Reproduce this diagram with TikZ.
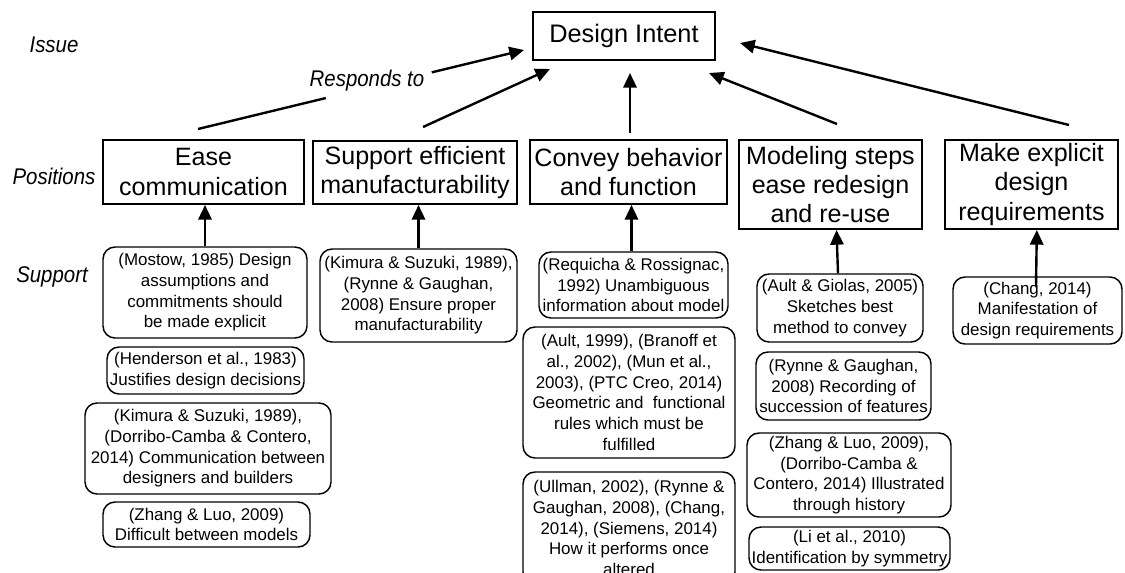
\documentclass[tikz,border=0pt]{standalone}
\usepackage{fontspec}
\setmainfont{Liberation Sans}
\newfontfamily\labfont[FakeStretch=0.9]{Liberation Sans}
\usetikzlibrary{arrows.meta,calc}

\tikzset{
  posbox/.style={draw, line width=1.5pt, align=center, inner sep=0pt,
    font={\fontsize{18.8}{22}\selectfont}},
  supbox/.style={draw, rounded corners=9pt, line width=1.1pt, align=center, inner sep=0pt,
    font={\fontsize{12.7}{15.5}\selectfont}},
  arr/.style={line width=1.8pt, -{Triangle[length=11pt,width=10pt]}},
  seg/.style={line width=1.8pt},
  lab/.style={font={\labfont\itshape\fontsize{17}{20}\selectfont}}
}

\begin{document}
\begin{tikzpicture}[x=0.75pt, y=-0.75pt]
\useasboundingbox (0,0) rectangle (1125,572);
\fill[white] (0,0) rectangle (1125,572);
\clip (0,0) rectangle (1125,572);

% level labels
\node[lab] (lissue) at (54,45) {Issue};
\node[lab] (lpos) at (54,176) {Positions};
\node[lab] (lsup) at (52,277) {Support};

% issue
\node[posbox, minimum width=136.5pt, minimum height=36pt,
  font={\fontsize{19}{22}\selectfont}] (intent) at (624,36) {Design Intent};

% positions
\node[posbox, minimum width=150.75pt, minimum height=48pt] (ease) at (203.5,172) {Ease\\communication};
\node[posbox, minimum width=153pt, minimum height=47.25pt] (manuf) at (415,172.5) {Support efficient\\manufacturability};
\node[posbox, minimum width=147.75pt, minimum height=48pt] (convey) at (628.5,172) {Convey behavior\\and function};
\node[posbox, minimum width=137.25pt, minimum height=66.75pt] (model) at (830.5,184.5) {Modeling steps\\ease redesign\\and re-use};
\node[posbox, minimum width=129.75pt, minimum height=66.75pt] (explicit) at (1031.5,184.5) {Make explicit\\design\\requirements};

% support, column 1
\node[supbox, minimum width=153pt, minimum height=68.25pt] (mostow) at (205,292.5)
  {(Mostow, 1985) Design\\assumptions and\\commitments should\\be made explicit};
\node[supbox, minimum width=147.75pt, minimum height=35.25pt] (henderson) at (205.5,370.5)
  {(Henderson et al., 1983)\\Justifies design decisions};
\node[supbox, minimum width=184.5pt, minimum height=68.25pt] (kimuraA) at (208,448.5)
  {(Kimura \& Suzuki, 1989),\\(Dorribo-Camba \& Contero,\\2014) Communication between\\designers and builders};
\node[supbox, minimum width=155.25pt, minimum height=33.75pt] (zhangA) at (206.5,524.5)
  {(Zhang \& Luo, 2009)\\Difficult between models};

% support, column 2
\node[supbox, minimum width=147.75pt, minimum height=69.75pt] (kimuraB) at (418.5,295.5)
  {(Kimura \& Suzuki, 1989),\\(Rynne \& Gaughan,\\2008) Ensure proper\\manufacturability};

% support, column 3
\node[supbox, minimum width=141.75pt, minimum height=49.5pt] (requicha) at (633.5,285)
  {(Requicha \& Rossignac,\\1992) Unambiguous\\information about model};
\node[supbox, minimum width=159pt, minimum height=98.25pt] (ault) at (629,392.5)
  {(Ault, 1999), (Branoff et\\al., 2002), (Mun et al.,\\2003), (PTC Creo, 2014)\\Geometric and\ \ functional\\rules which must be\\fulfilled};
\node[supbox, minimum width=159pt, minimum height=84pt] (ullman) at (629,528)
  {(Ullman, 2002), (Rynne \&\\Gaughan, 2008), (Chang,\\2014), (Siemens, 2014)\\How it performs once\\altered};

% support, column 4
\node[supbox, minimum width=124.5pt, minimum height=51pt] (giolas) at (840,308)
  {(Ault \& Giolas, 2005)\\Sketches best\\method to convey};
\node[supbox, minimum width=131.25pt, minimum height=51pt] (rynne) at (843.5,386)
  {(Rynne \& Gaughan,\\2008) Recording of\\succession of features};
\node[supbox, minimum width=153pt, minimum height=63pt] (zhangB) at (849,475)
  {(Zhang \& Luo, 2009),\\(Dorribo-Camba \&\\Contero, 2014) Illustrated\\through history};
\node[supbox, minimum width=150.75pt, minimum height=32.25pt] (li) at (849.5,548.5)
  {(Li et al., 2010)\\Identification by symmetry};

% support, column 5
\node[supbox, minimum width=126.75pt, minimum height=50.25pt] (chang) at (1037.5,310.5)
  {(Chang, 2014)\\Manifestation of\\design requirements};

% positions respond to the issue
\coordinate (r1s) at ([shift={(-5.5,-10)}]ease.north);
\coordinate (r1e) at ([shift={(-8,14)}]intent.west);
\draw[seg] (r1s) -- ($(r1s)!0.392!(r1e)$);
\draw[arr] ($(r1s)!0.717!(r1e)$) -- (r1e);
\node[lab] (responds) at (367,81) {Responds to};

\draw[arr] ([shift={(8,-13)}]manuf.north) -- ([shift={(18,8)}]intent.south west);
\draw[arr] ([shift={(1.5,-6)}]convey.north) -- ([shift={(6,12)}]intent.south);
\draw[arr] ([shift={(6.5,-15)}]model.north) -- ([shift={(-7,12)}]intent.south east);
\draw[arr] ([shift={(37.5,-14)}]explicit.north) -- ([shift={(24,7)}]intent.east);

% support backs each position
\draw[arr] (mostow.north) -- (mostow.north |- ease.south);
\draw[arr] (kimuraB.north) -- (kimuraB.north |- manuf.south);
\draw[arr] ([xshift=-1.5pt]requicha.north) -- ([xshift=-1.5pt]requicha.north |- convey.south);
\draw[arr] ([xshift=-1.5pt]giolas.north) -- ([xshift=4.5pt]model.south);
\draw[arr] ([shift={(-1.5,10)}]chang.north) -- ([xshift=4pt]explicit.south);
\end{tikzpicture}
\end{document}
